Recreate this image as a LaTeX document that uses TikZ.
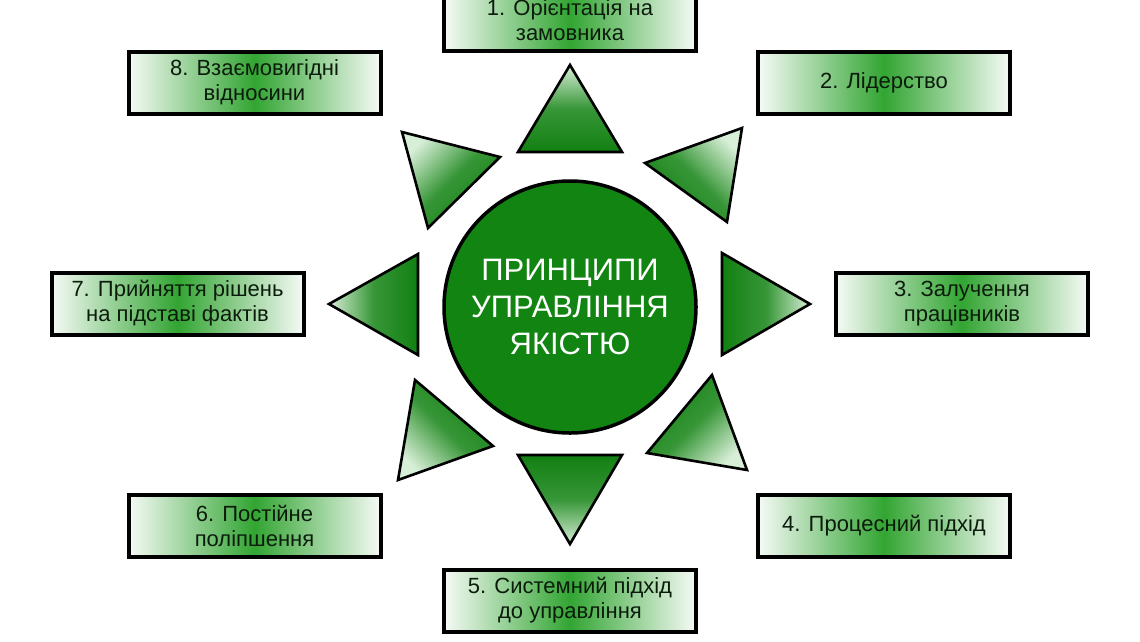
\documentclass[tikz,border=0pt]{standalone}
\usepackage{fontspec}
\setmainfont{Liberation Sans}
\definecolor{circgreen}{RGB}{18,132,18}
\definecolor{tridark}{RGB}{18,128,18}
\definecolor{trimid}{RGB}{55,150,55}
\definecolor{trilight}{RGB}{215,238,215}
\definecolor{boxgreen}{RGB}{50,165,50}
\definecolor{boxlight}{RGB}{246,250,246}
\definecolor{boxtext}{RGB}{12,28,12}
\tikzset{
  pbox/.style={draw=black, line width=4pt, left color=boxlight, right color=boxlight, middle color=boxgreen,
    minimum width=252pt, minimum height=62pt, align=center, text=boxtext,
    font=\fontsize{22}{25}\selectfont, inner sep=0pt},
  tri/.style={draw=black, line width=2.6pt, line join=miter, top color=trilight, bottom color=tridark, middle color=trimid},
  hub/.style={circle, draw=black, line width=3.5pt, fill=circgreen, minimum size=252pt, inner sep=0pt,
    text=white, align=center, font=\fontsize{31}{37}\selectfont}
}
\begin{document}
\begin{tikzpicture}[x=1pt,y=-1pt]
\useasboundingbox (0,0) rectangle (1140,641);
\fill[white] (0,0) rectangle (1140,641);
% boxes
\node[pbox] (b1) at (570,20) {1. Орієнтація на\\замовника};
\node[pbox] (b2) at (884,82.5) {2. Лідерство};
\node[pbox] (b3) at (962,303.5) {3. Залучення\\працівників};
\node[pbox] (b4) at (884,525.5) {4. Процесний підхід};
\node[pbox] (b5) at (570,600.5) {5. Системний підхід\\до управління};
\node[pbox] (b6) at (254.5,525.5) {6. Постійне\\поліпшення};
\node[pbox] (b7) at (177.5,303.5) {7. Прийняття рішень\\на підставі фактів};
\node[pbox] (b8) at (254.5,82.5) {8. Взаємовигідні\\відносини};
% triangles
\path[tri, shading angle=0] (570,65) -- (622,152) -- (518,152) -- cycle;
\path[tri, shading angle=315] (742,128) -- (727,222) -- (645,163) -- cycle;
\path[tri, shading angle=270] (810,304) -- (722,355) -- (722,253) -- cycle;
\path[tri, shading angle=225] (747,470) -- (647,453) -- (712,375) -- cycle;
\path[tri, shading angle=180] (570,544) -- (518,455) -- (622,455) -- cycle;
\path[tri, shading angle=135] (398,480) -- (415,380) -- (493,446) -- cycle;
\path[tri, shading angle=90] (329,304) -- (418,254) -- (418,355) -- cycle;
\path[tri, shading angle=45] (402,132) -- (500,157) -- (428,228) -- cycle;
% hub
\node[hub] (hub) at (570,307) {ПРИНЦИПИ\\УПРАВЛІННЯ\\ЯКІСТЮ};
\end{tikzpicture}
\end{document}
